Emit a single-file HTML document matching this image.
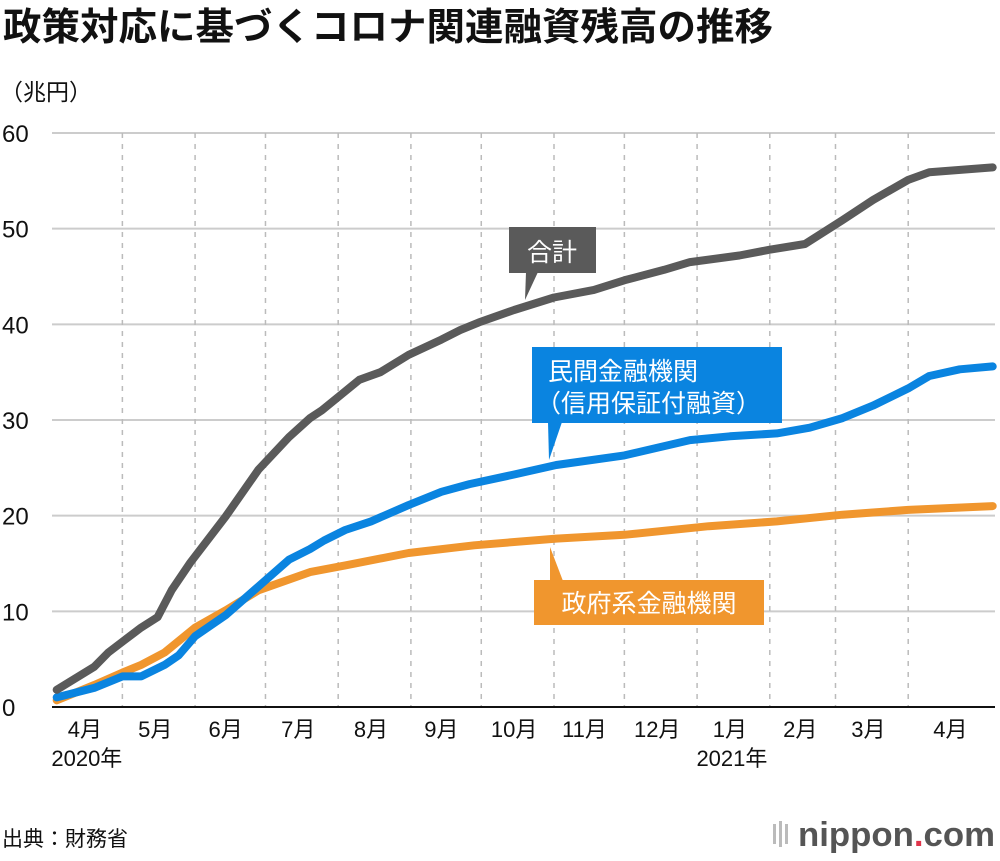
<!DOCTYPE html>
<html><head><meta charset="utf-8">
<style>
html,body{margin:0;padding:0;background:#fff;}
body{width:1000px;height:856px;overflow:hidden;font-family:"Liberation Sans","Noto Sans CJK JP",sans-serif;}
</style></head>
<body>
<svg id="chart" width="1000" height="856" xmlns="http://www.w3.org/2000/svg" font-family="'Liberation Sans','Noto Sans CJK JP',sans-serif">
<text x="3" y="40" font-size="38" font-weight="bold" fill="#111" textLength="770" lengthAdjust="spacingAndGlyphs">政策対応に基づくコロナ関連融資残高の推移</text>
<text x="0" y="100" font-size="23" fill="#111">（兆円）</text>
<g id="grid"></g>
<g id="lines"></g>
<g id="axes"></g>
<g id="callouts">
  <g>
    <rect x="509" y="227" width="87" height="46" fill="#5a5a5a"/>
    <polygon points="526,272 538,272 525,300" fill="#5a5a5a"/>
    <text x="552" y="261" font-size="25" fill="#fff" text-anchor="middle">合計</text>
  </g>
  <g>
    <rect x="532" y="347" width="250" height="76" fill="#0a84e0"/>
    <polygon points="548,422 562,422 549,460" fill="#0a84e0"/>
    <text x="548" y="380" font-size="25" fill="#fff">民間金融機関</text>
    <text x="536" y="412" font-size="25" fill="#fff">（信用保証付融資）</text>
  </g>
  <g>
    <rect x="534" y="580" width="230" height="45" fill="#f0962e"/>
    <polygon points="550,581 563,581 550,547" fill="#f0962e"/>
    <text x="649" y="612" font-size="25" fill="#fff" text-anchor="middle">政府系金融機関</text>
  </g>
</g>
<text x="2" y="846" font-size="21" fill="#111">出典：財務省</text>
<g>
  <rect x="773" y="824" width="3" height="20" fill="#bbb"/><rect x="779" y="821" width="3" height="26" fill="#bbb"/><rect x="785" y="824" width="3" height="20" fill="#bbb"/>
  <text x="798" y="846" font-size="34" font-weight="bold" fill="#555" textLength="197" lengthAdjust="spacingAndGlyphs">nippon<tspan fill="#e0344a">.</tspan>com</text>
</g>
</svg>
<script>
const dates = {
  total: ["2020-04-03","2020-04-19","2020-04-25","2020-05-02","2020-05-09","2020-05-16","2020-05-22","2020-05-30","2020-06-14","2020-06-28","2020-07-11","2020-07-20","2020-07-25","2020-08-03","2020-08-10","2020-08-19","2020-08-31","2020-09-14","2020-09-22","2020-09-30","2020-10-15","2020-11-01","2020-11-18","2020-12-01","2020-12-18","2020-12-29","2021-01-19","2021-02-01","2021-02-16","2021-03-04","2021-03-17","2021-04-01","2021-04-10","2021-05-07"],
  priv: ["2020-04-03","2020-04-19","2020-05-01","2020-05-09","2020-05-19","2020-05-25","2020-06-01","2020-06-14","2020-06-28","2020-07-11","2020-07-20","2020-07-26","2020-08-04","2020-08-15","2020-08-31","2020-09-14","2020-09-26","2020-10-15","2020-11-02","2020-12-01","2020-12-29","2021-01-15","2021-02-04","2021-02-18","2021-03-04","2021-03-17","2021-04-01","2021-04-10","2021-04-23","2021-05-07"],
  gov: ["2020-04-03","2020-04-19","2020-05-01","2020-05-09","2020-05-19","2020-06-01","2020-06-14","2020-06-28","2020-07-20","2020-08-04","2020-08-31","2020-09-28","2020-11-02","2020-12-01","2021-01-06","2021-02-04","2021-03-04","2021-04-01","2021-05-07"]
};
const totalValues = [1.8,4.2,5.7,7.0,8.3,9.4,12.2,15.1,19.9,24.8,28.2,30.2,31.0,32.8,34.2,35.0,36.8,38.4,39.4,40.2,41.5,42.8,43.6,44.6,45.7,46.5,47.2,47.8,48.4,50.9,53.0,55.1,55.9,56.4];
const privateValues = [1.0,2.0,3.2,3.2,4.4,5.4,7.4,9.6,12.6,15.4,16.5,17.4,18.5,19.4,21.1,22.5,23.3,24.3,25.3,26.3,27.9,28.3,28.6,29.2,30.2,31.5,33.3,34.6,35.3,35.6];
const govValues = [0.7,2.3,3.6,4.4,5.7,8.3,10.1,12.2,14.1,14.8,16.1,16.9,17.6,18.0,18.9,19.4,20.1,20.6,21.0];
const yTicks = [0,10,20,30,40,50,60];
const monthStarts = ["2020-05-01","2020-06-01","2020-07-01","2020-08-01","2020-09-01","2020-10-01","2020-11-01","2020-12-01","2021-01-01","2021-02-01","2021-03-01","2021-04-01"];
const monthLabels = ["4月","5月","6月","7月","8月","9月","10月","11月","12月","1月","2月","3月","4月"];
const monthLabelDates = ["2020-04-15","2020-05-15","2020-06-14","2020-07-15","2020-08-15","2020-09-14","2020-10-15","2020-11-14","2020-12-15","2021-01-15","2021-02-14","2021-03-15","2021-04-19"];

const NS="http://www.w3.org/2000/svg";
const X0=52,X1=995,Y0=707,Y60=133;
const t0=Date.parse("2020-04-01"), t1=Date.parse("2021-05-08");
function xs(d){return X0+(Date.parse(d)-t0)/(t1-t0)*(X1-X0);}
function ys(v){return Y0-(v/60)*(Y0-Y60);}
function mk(tag,attrs,parent){const e=document.createElementNS(NS,tag);for(const k in attrs)e.setAttribute(k,attrs[k]);parent.appendChild(e);return e;}
const grid=document.getElementById('grid'),lines=document.getElementById('lines'),axes=document.getElementById('axes');
yTicks.forEach(v=>{
  if(v>0){const l=mk('line',{x1:X0,x2:X1,y1:ys(v),y2:ys(v),stroke:'#ccc','stroke-width':2},grid);
  
  }
  const t=mk('text',{x:2,y:ys(v)+9,'font-size':24,fill:'#111'},axes);t.textContent=v;
  
  
});
monthStarts.forEach(d=>{
  const l=mk('line',{x1:xs(d),x2:xs(d),y1:Y60,y2:Y0,stroke:'#bbb','stroke-width':1.5,'stroke-dasharray':'5,6'},grid);
  
  
});
const ax=mk('line',{x1:X0,x2:X1,y1:Y0,y2:Y0,stroke:'#111','stroke-width':2},axes);


monthLabels.forEach((m,i)=>{
  const t=mk('text',{x:xs(monthLabelDates[i]),y:737,'font-size':22,fill:'#111','text-anchor':'middle'},axes);t.textContent=m;
  
  
});
[["2020年","2020-04-15"],["2021年","2021-01-15"]].forEach(([s,d])=>{
  const t=mk('text',{x:xs(d)+2,y:766,'font-size':22,fill:'#111','text-anchor':'middle'},axes);t.textContent=s;
  
  
});
function series(ds,vals,color,name){
  const p=ds.map((d,i)=>xs(d).toFixed(1)+','+ys(vals[i]).toFixed(1)).join(' ');
  const l=mk('polyline',{points:p,fill:'none',stroke:color,'stroke-width':8,'stroke-linejoin':'round','stroke-linecap':'round'},lines);
  
  
}
series(dates.gov,govValues,'#f0962e','government-line');
series(dates.priv,privateValues,'#0a84e0','private-line');
series(dates.total,totalValues,'#5a5a5a','total-line');
</script>
</body></html>
